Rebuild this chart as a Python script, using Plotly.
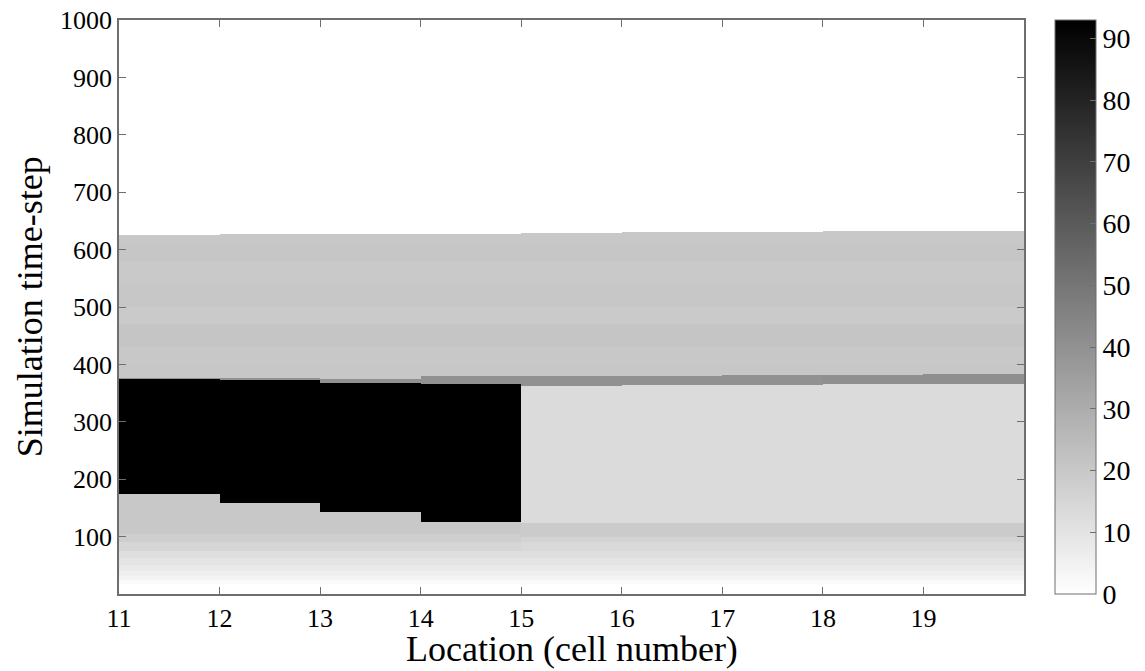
import plotly.graph_objects as go

# ---------------- data ----------------
cells = [11, 12, 13, 14, 15, 16, 17, 18, 19]
n_steps = 1000

# top of the non-zero region for each cell
top_edge = [626, 627, 628, 628, 629, 630, 631, 632, 633]

# congested (black) block per cell (None = no block)
black_bottom = [175, 158, 143, 125, None, None, None, None, None]
black_top = [374, 373, 368, 366, None, None, None, None, None]
black_val = 93

# darker band at the shock front
band_low = [374, 373, 368, 366, 363, 364, 364, 365, 366]
band_high = [376, 377, 375, 379, 379, 380, 381, 382, 384]
band_val = [40, 40, 40, 40, 40, 40, 40, 41, 41]

# upper band (above the front) – faint striations
upper_edges = [360, 400, 430, 470, 500, 540, 580, 610, 640]
upper_vals = [20.5, 20, 21, 19.5, 20.5, 19.8, 20.8, 20]

# lower profile, cells 11-14 (below the black block)
lower_edges_a = [0, 18, 25, 32, 40, 50, 62, 75, 90, 105, 360]
lower_vals_a = [0, 2, 4, 6, 8, 10, 12, 15, 18, 20]

# lower profile, cells 15-19
lower_edges_b = [0, 18, 25, 32, 40, 50, 62, 75, 90, 100, 124, 360]
lower_vals_b = [0, 2, 4, 6, 8, 10, 12, 14, 16, 19, 13]

x_ticks = [11, 12, 13, 14, 15, 16, 17, 18, 19]
y_ticks = [100, 200, 300, 400, 500, 600, 700, 800, 900, 1000]
cb_ticks = [0, 10, 20, 30, 40, 50, 60, 70, 80, 90]


# ---------------- build matrix ----------------
def lookup(edges, vals, y):
    for k in range(len(vals)):
        if edges[k] <= y < edges[k + 1]:
            return vals[k]
    return vals[-1]


y_centers = [i + 0.5 for i in range(n_steps)]
z = []
for y in y_centers:
    row = []
    for j, c in enumerate(cells):
        if y >= top_edge[j]:
            v = 0
        elif band_low[j] <= y < band_high[j]:
            v = band_val[j]
        elif black_bottom[j] is not None and black_bottom[j] <= y < black_top[j]:
            v = black_val
        elif y >= band_high[j]:
            v = lookup(upper_edges, upper_vals, y)
        elif j < 4:
            v = lookup(lower_edges_a, lower_vals_a, y)
        else:
            v = lookup(lower_edges_b, lower_vals_b, y)
        row.append(v)
    z.append(row)

x_centers = [c + 0.5 for c in cells]

font_family = "Liberation Serif"
axis_col = "#6e6e6e"

fig = go.Figure(
    go.Heatmap(
        x=x_centers,
        y=y_centers,
        z=z,
        zmin=0,
        zmax=black_val,
        colorscale=[[0, "rgb(255,255,255)"], [1, "rgb(0,0,0)"]],
        zsmooth=False,
        hoverinfo="skip",
        colorbar=dict(
            x=1.034,
            xanchor="left",
            y=0.5,
            yanchor="middle",
            len=1,
            lenmode="fraction",
            thickness=41,
            thicknessmode="pixels",
            outlinecolor=axis_col,
            outlinewidth=1,
            tickvals=cb_ticks,
            ticks="inside",
            ticklen=6,
            tickcolor=axis_col,
            tickfont=dict(family=font_family, size=28, color="black"),
            xpad=0,
            ypad=0,
        ),
    )
)

fig.update_layout(
    width=1145,
    height=671,
    margin=dict(l=119, r=121, t=20, b=77, autoexpand=False),
    paper_bgcolor="white",
    plot_bgcolor="white",
    font=dict(family=font_family, color="black"),
    annotations=[
        dict(
            text="Location (cell number)",
            xref="paper", yref="paper",
            x=0.5, y=-0.096,
            xanchor="center", yanchor="middle",
            showarrow=False,
            font=dict(family=font_family, size=36, color="black"),
        ),
        dict(
            text="Simulation time-step",
            xref="paper", yref="paper",
            x=-0.098, y=0.5,
            xanchor="center", yanchor="middle",
            textangle=-90,
            showarrow=False,
            font=dict(family=font_family, size=36, color="black"),
        ),
    ],
)

common_axis = dict(
    ticks="inside",
    ticklen=7,
    tickcolor=axis_col,
    showline=True,
    linecolor=axis_col,
    linewidth=1.5,
    mirror="ticks",
    showgrid=False,
    zeroline=False,
    automargin=False,
    tickfont=dict(family=font_family, size=26, color="black"),
)
fig.update_xaxes(range=[11, 20], tickvals=x_ticks, **common_axis)
fig.update_yaxes(range=[0, 1000], tickvals=y_ticks, **common_axis)

fig.write_html(
    "out.html",
    config={"displayModeBar": False},
    post_script="document.body.style.margin='0';document.body.style.overflow='hidden';",
)
